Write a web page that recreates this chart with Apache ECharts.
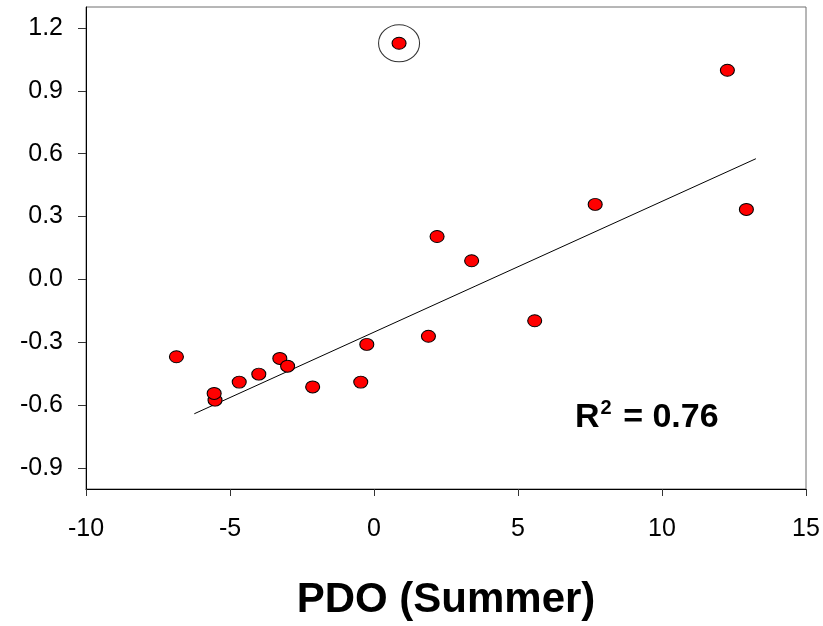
<!DOCTYPE html>
<html>
<head>
<meta charset="utf-8">
<script src="https://cdn.jsdelivr.net/npm/echarts@6/dist/echarts.min.js"></script>
<style>
html,body{margin:0;padding:0;background:#fff;}
#chart{width:823px;height:626px;}
</style>
</head>
<body>
<div id="chart"></div>
<script>
// Data
const pdoSummer = [-6.86, -5.52, -5.55, -4.68, -4.00, -3.27, -3.00, -2.13, -0.46, -0.25, 1.89, 2.19, 3.39, 5.58, 7.68, 12.27, 12.93, 0.87];
const response  = [-0.369, -0.576, -0.544, -0.490, -0.452, -0.377, -0.414, -0.513, -0.490, -0.310, -0.271, 0.205, 0.089, -0.197, 0.358, 0.998, 0.334, 1.127];
const outlierX = [0.87];
const outlierY = [1.127];
const trendX = [-6.24, 13.26];
const trendY = [-0.641, 0.576];
const yTickValues = [-0.9, -0.6, -0.3, 0.0, 0.3, 0.6, 0.9, 1.2];
const xTitle = 'PDO (Summer)';
const r2Pos = [6.98, -0.74];
const r2Value = '0.76';

const FONT = 'Liberation Sans, Arial, sans-serif';
const chart = echarts.init(document.getElementById('chart'), null, {renderer: 'canvas'});

chart.setOption({
  backgroundColor: '#fff',
  animation: false,
  grid: {left: 86, right: 17, top: 7, bottom: 137, show: true, borderColor: '#6e6e6e', borderWidth: 1,
         containLabel: false, outerBoundsMode: 'none'},
  xAxis: {
    type: 'value', min: -10, max: 15, interval: 5,
    name: xTitle, nameLocation: 'middle', nameGap: 90,
    nameTextStyle: {fontFamily: FONT, fontSize: 42, fontWeight: 'bold', color: '#000'},
    axisLine: {show: true, onZero: false, lineStyle: {color: '#000', width: 1}},
    axisTick: {show: true, inside: false, length: 7, lineStyle: {color: '#333'}},
    axisLabel: {fontFamily: FONT, fontSize: 25, color: '#000', margin: 28},
    splitLine: {show: false}
  },
  yAxis: {
    type: 'value', min: -1.0, max: 1.3,
    axisLine: {show: true, onZero: false, lineStyle: {color: '#000', width: 1}},
    axisTick: {show: true, inside: false, length: 8, customValues: yTickValues, lineStyle: {color: '#333'}},
    axisLabel: {fontFamily: FONT, fontSize: 25, color: '#000', margin: 23, customValues: yTickValues,
      formatter: v => (Math.abs(v) < 1e-9 ? 0 : v).toFixed(1)},
    splitLine: {show: false}
  },
  series: [
    {
      type: 'line',
      data: trendX.map((x, i) => [x, trendY[i]]),
      showSymbol: false, symbol: 'none',
      lineStyle: {color: '#000', width: 1},
      z: 2
    },
    {
      type: 'scatter',
      data: pdoSummer.map((x, i) => [x, response[i]]),
      symbol: 'circle', symbolSize: [14, 12],
      itemStyle: {color: '#ff0000', borderColor: '#000', borderWidth: 1, opacity: 1},
      z: 3
    },
    {
      type: 'scatter',
      data: outlierX.map((x, i) => [x, outlierY[i]]),
      symbol: 'circle', symbolSize: [41, 37],
      itemStyle: {color: 'rgba(0,0,0,0)', borderColor: '#000', borderWidth: 1},
      z: 4, silent: true
    }
  ]
});

const p = chart.convertToPixel({gridIndex: 0}, r2Pos);
chart.setOption({
  graphic: [{
    type: 'text', x: p[0], y: p[1], z: 10, silent: true,
    style: {
      text: '{r|R}{s|2}{r| = ' + r2Value + '}',
      align: 'left', verticalAlign: 'bottom', fill: '#000',
      rich: {
        r: {fontFamily: FONT, fontSize: 34, fontWeight: 'bold', fill: '#000', verticalAlign: 'bottom', lineHeight: 36},
        s: {fontFamily: FONT, fontSize: 20, fontWeight: 'bold', fill: '#000', verticalAlign: 'top', padding: [0, 2, 20, 1], lineHeight: 36}
      }
    }
  }]
});
</script>
</body>
</html>
